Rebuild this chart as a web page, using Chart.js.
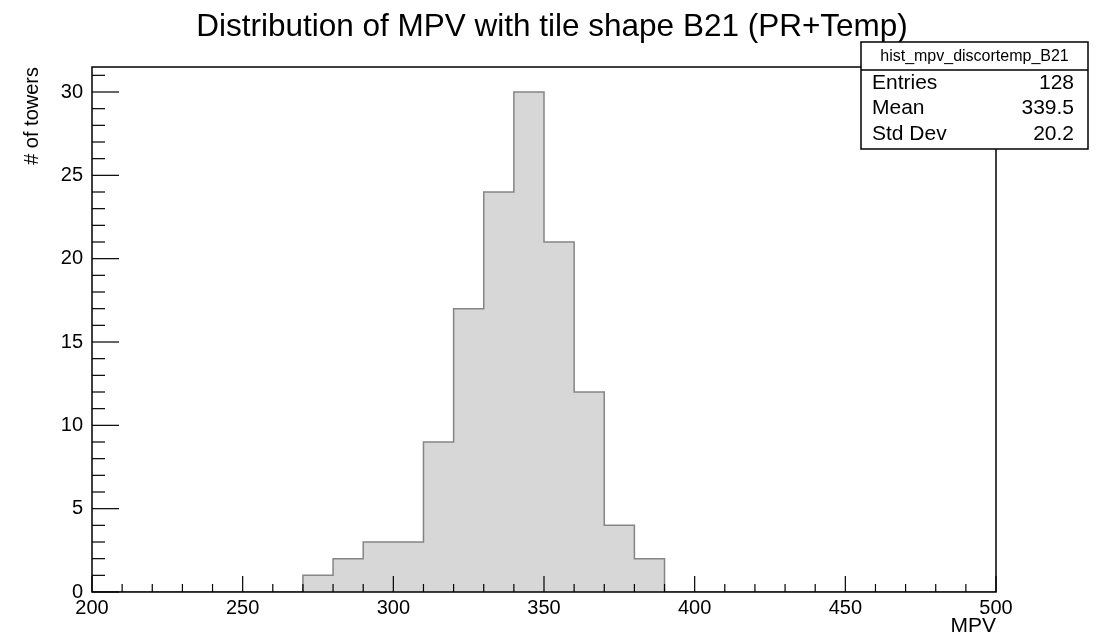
<!DOCTYPE html>
<html>
<head>
<meta charset="utf-8">
<script src="https://cdn.jsdelivr.net/npm/chart.js@4.4.1/dist/chart.umd.min.js"></script>
<style>
  html, body { margin: 0; padding: 0; background: #ffffff; }
  #wrap { width: 1104px; height: 639px; position: relative; }
</style>
</head>
<body>
<div id="wrap"><canvas id="c" width="1104" height="639"></canvas></div>
<script>
// ---- data ----
const chartTitle = "Distribution of MPV with tile shape B21 (PR+Temp)";
const histName = "hist_mpv_discortemp_B21";
const binEdges = [200,210,220,230,240,250,260,270,280,290,300,310,320,330,340,350,360,370,380,390,400,410,420,430,440,450,460,470,480,490,500];
const binCounts = [0,0,0,0,0,0,0,1,2,3,3,9,17,24,30,21,12,4,2,0,0,0,0,0,0,0,0,0,0,0];
const statLabels = ["Entries", "Mean", "Std Dev"];
const statValues = ["128", "339.5", "20.2"];
const xTitle = "MPV";
const yTitle = "# of towers";
const xRange = [200, 500];
const yRange = [0, 31.5];

// each bin's count holds from its lower edge to the next edge
const points = binEdges.map((e, i) => ({ x: e, y: i < binCounts.length ? binCounts[i] : 0 }));

const FONT = "'Liberation Sans', Arial, Helvetica, sans-serif";

// ROOT-style inward ticks, frame and stats box
const rootPlugin = {
  id: 'rootStyle',
  afterDatasetsDraw(chart) {
    const ctx = chart.ctx;
    const a = chart.chartArea;
    const xs = chart.scales.x, ys = chart.scales.y;
    ctx.save();
    ctx.strokeStyle = '#000';
    ctx.lineWidth = 1.5;
    ctx.strokeRect(a.left, a.top, a.right - a.left, a.bottom - a.top);
    const xMajLen = 16, xMinLen = 8;
    ctx.lineWidth = 1.2;
    for (let v = xs.min; v <= xs.max + 1e-6; v += 10) {
      const px = xs.getPixelForValue(v);
      const major = Math.abs(v % 50) < 1e-6;
      const len = major ? xMajLen : xMinLen;
      ctx.beginPath(); ctx.moveTo(px, a.bottom); ctx.lineTo(px, a.bottom - len); ctx.stroke();
    }
    const yMajLen = 27, yMinLen = 13;
    for (let v = ys.min; v <= ys.max + 1e-6; v += 1) {
      const py = ys.getPixelForValue(v);
      const major = Math.abs(v % 5) < 1e-6;
      const len = major ? yMajLen : yMinLen;
      ctx.beginPath(); ctx.moveTo(a.left, py); ctx.lineTo(a.left + len, py); ctx.stroke();
    }
    // stats box
    const bx = 861, by = 42, bw = 227, bh = 107, hdr = 28;
    ctx.fillStyle = '#fff';
    ctx.fillRect(bx, by, bw, bh);
    ctx.lineWidth = 1.5;
    ctx.strokeRect(bx, by, bw, bh);
    ctx.beginPath(); ctx.moveTo(bx, by + hdr); ctx.lineTo(bx + bw, by + hdr); ctx.stroke();
    ctx.fillStyle = '#000';
    ctx.textBaseline = 'middle';
    ctx.textAlign = 'center';
    ctx.font = '16px ' + FONT;
    ctx.fillText(histName, bx + bw / 2, by + 15);
    ctx.font = '21px ' + FONT;
    const rowY = [83, 108, 134];
    statLabels.forEach((lab, i) => {
      ctx.textAlign = 'left';
      ctx.fillText(lab, bx + 11, rowY[i]);
      ctx.textAlign = 'right';
      ctx.fillText(statValues[i], bx + bw - 14, rowY[i]);
    });
    ctx.restore();
  }
};

new Chart(document.getElementById('c'), {
  type: 'line',
  data: {
    datasets: [{
      data: points,
      stepped: 'before',
      fill: 'origin',
      backgroundColor: '#d7d7d7',
      borderColor: '#858585',
      borderWidth: 1.5,
      pointRadius: 0,
      tension: 0
    }]
  },
  options: {
    responsive: false,
    animation: false,
    devicePixelRatio: 1,
    layout: { padding: 0 },
    plugins: {
      legend: { display: false },
      tooltip: { enabled: false },
      title: {
        display: true,
        text: chartTitle,
        color: '#000',
        font: { family: FONT, size: 31.5, weight: 'normal' },
        padding: { top: 8, bottom: 21.2 }
      }
    },
    scales: {
      x: {
        type: 'linear',
        min: xRange[0], max: xRange[1],
        grid: { display: false, drawTicks: false },
        border: { display: false },
        ticks: { stepSize: 50, color: '#000', padding: 4, font: { family: FONT, size: 20 }, maxRotation: 0, includeBounds: false },
        title: { display: true, text: xTitle, align: 'end', color: '#000', font: { family: FONT, size: 21 }, padding: { top: 0, bottom: 0 } },
        afterFit(s) { s.height = 47; }
      },
      y: {
        type: 'linear',
        min: yRange[0], max: yRange[1],
        grid: { display: false, drawTicks: false },
        border: { display: false },
        ticks: { stepSize: 5, color: '#000', padding: 9, font: { family: FONT, size: 20 }, includeBounds: false },
        title: { display: true, text: yTitle, align: 'end', color: '#000', font: { family: FONT, size: 20 }, padding: { top: 20, bottom: 0 } },
        afterFit(s) { s.width = 92; }
      },
      yRight: {
        type: 'linear',
        position: 'right',
        min: yRange[0], max: yRange[1],
        grid: { display: false, drawTicks: false },
        border: { display: false },
        ticks: { display: false },
        afterFit(s) { s.width = 108; }
      }
    }
  },
  plugins: [rootPlugin]
});
</script>
</body>
</html>
